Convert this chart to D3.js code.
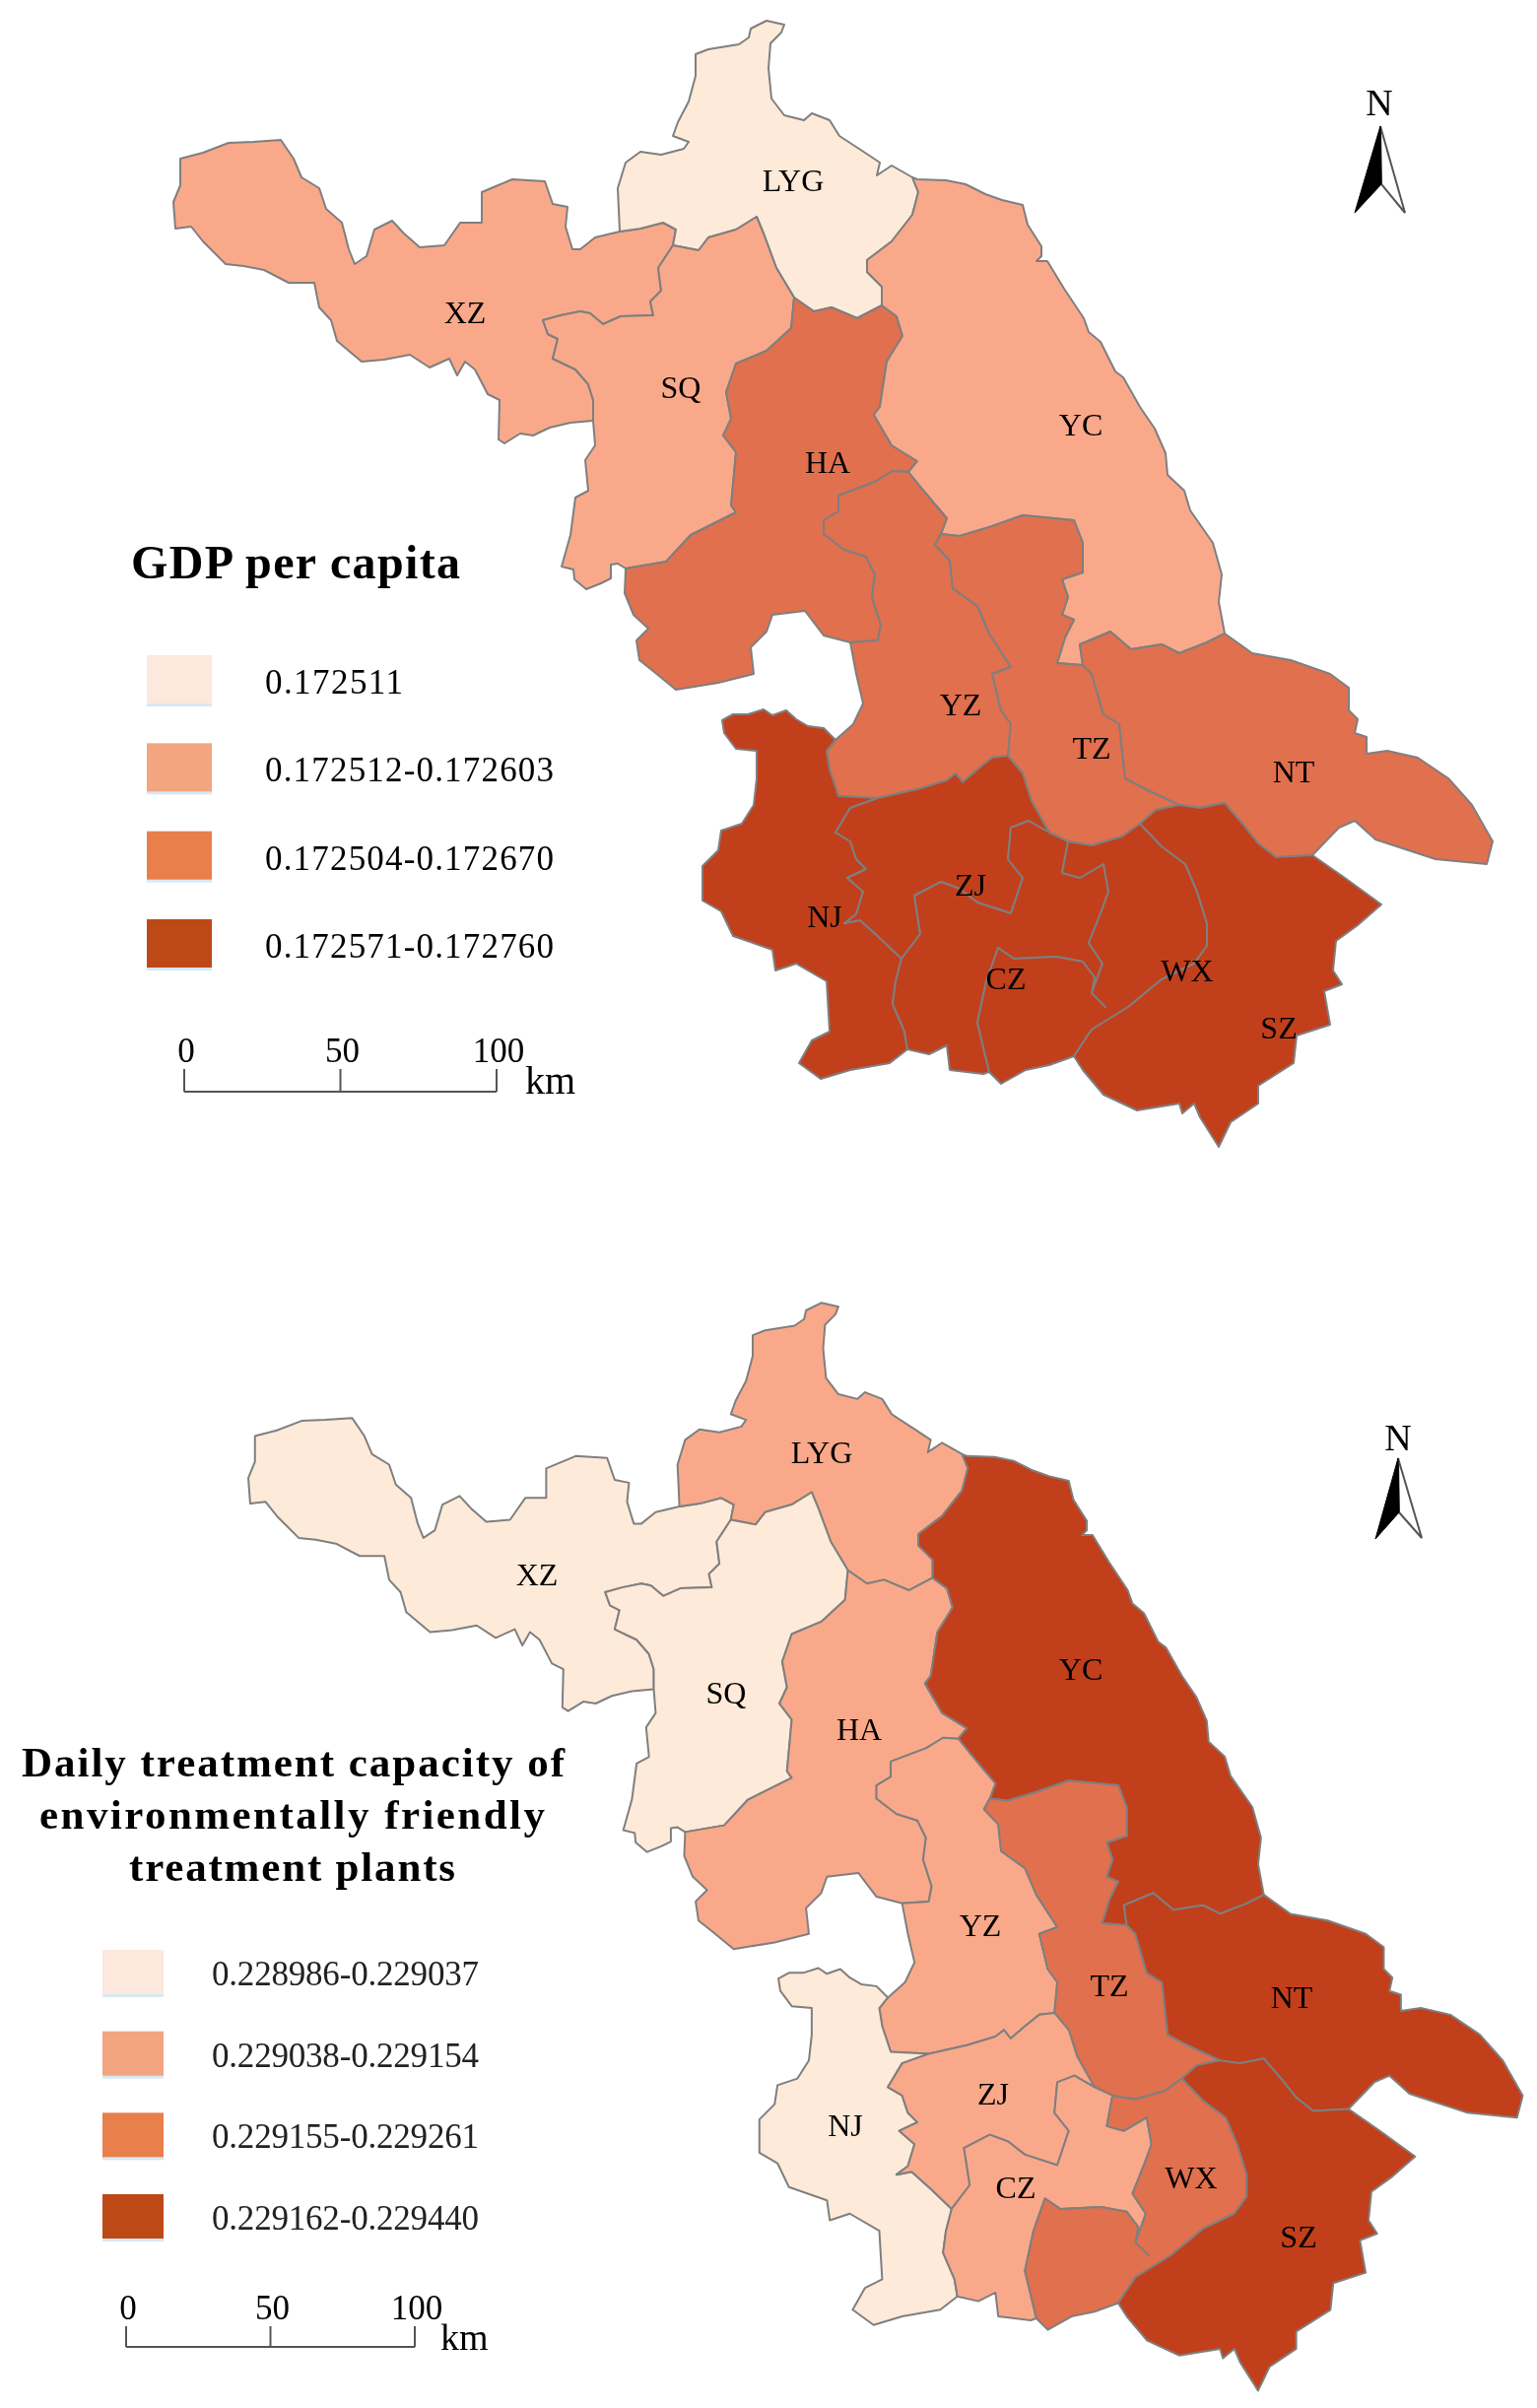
<!DOCTYPE html>
<html>
<head>
<meta charset="utf-8">
<script src="https://cdn.jsdelivr.net/npm/d3@7"></script>
<style>
  html, body { margin: 0; padding: 0; background: #fff; }
  svg { display: block; filter: blur(0.7px); }
  text { font-family: "Liberation Serif", serif; fill: #000; }
  .region { stroke: #7f7f7f; stroke-width: 2; stroke-linejoin: round; }
  .map-label { font-size: 32px; text-anchor: middle; }
  .title { font-size: 48px; font-weight: bold; }
  .legend-label { font-size: 35px; }
  .scale-label { font-size: 35px; }
  .scale-line { stroke: #555; stroke-width: 2; fill: none; }
</style>
</head>
<body>
<svg id="chart" width="1560" height="2444" viewBox="0 0 1560 2444"></svg>
<script>
// Shared borders of the 13 cities (map units = its pixels)
const arcs = {
  xzOut: [[602,427],[579,429],[558,434],[541,442],[528,440],[512,450],[506,446],[507,406],[495,400],[482,375],[472,367],[464,381],[456,364],[436,373],[416,360],[390,365],[367,367],[342,346],[336,325],[324,312],[319,287],[293,287],[268,274],[247,270],[229,268],[206,245],[194,230],[178,232],[176,205],[183,188],[183,161],[206,155],[232,145],[257,144],[285,142],[298,161],[306,180],[324,191],[331,212],[347,226],[354,253],[360,268],[372,260],[380,233],[398,224],[410,237],[426,251],[451,249],[467,226],[489,226],[489,195],[520,182],[553,184],[561,207],[576,210],[574,230],[581,253],[589,253],[604,241],[629,235]],
  lygXz: [[629,235],[650,232],[673,226],[686,233],[683,249]],
  xzSq: [[683,249],[668,272],[671,295],[660,306],[663,320],[630,321],[612,329],[599,318],[589,316],[569,320],[551,325],[556,339],[566,344],[561,364],[584,375],[597,390],[602,406],[602,427]],
  lygOut: [[629,235],[627,191],[635,165],[650,154],[671,157],[694,151],[699,144],[683,138],[688,124],[699,103],[706,77],[706,55],[719,50],[750,45],[760,38],[762,29],[778,21],[796,25],[793,33],[782,44],[780,69],[783,100],[796,117],[816,122],[824,115],[842,122],[852,138],[875,153],[893,165],[890,178],[905,168],[926,180]],
  lygYc: [[926,180],[932,195],[926,218],[905,245],[880,264],[880,276],[895,291],[895,310]],
  lygSq: [[683,249],[709,254],[719,241],[747,233],[768,220],[775,237],[788,272],[806,302]],
  lygHa: [[806,302],[826,316],[844,312],[870,323],[895,310]],
  sqHa: [[806,302],[803,333],[778,356],[747,369],[737,398],[742,425],[734,442],[747,459],[742,513],[747,520],[701,543],[676,570],[635,577]],
  sqOut: [[602,427],[604,452],[594,467],[597,498],[584,505],[579,543],[570,575],[582,578],[583,588],[595,598],[610,592],[620,587],[620,573],[627,572],[635,577]],
  haYc: [[895,310],[910,321],[916,341],[900,367],[893,413],[887,421],[905,452],[931,468],[922,479]],
  haYz: [[922,479],[906,478],[888,489],[851,503],[851,519],[836,528],[836,542],[857,558],[879,565],[888,583],[885,606],[894,634],[891,650],[863,652]],
  haOut: [[863,652],[836,645],[817,620],[784,624],[778,641],[762,657],[765,684],[729,693],[686,700],[664,682],[649,670],[646,650],[658,638],[643,624],[634,602],[635,577]],
  ycOut: [[926,180],[931,182],[960,183],[980,187],[1000,197],[1017,203],[1038,208],[1043,228],[1057,250],[1057,260],[1052,265],[1063,265],[1080,293],[1100,323],[1105,337],[1117,347],[1132,377],[1140,383],[1157,413],[1172,435],[1183,460],[1185,482],[1202,498],[1208,518],[1231,551],[1240,583],[1237,611],[1243,643]],
  ycYz: [[922,479],[934,494],[949,512],[961,526],[955,542]],
  ycTz: [[955,542],[974,544],[1004,535],[1038,523],[1090,528],[1099,551],[1099,581],[1078,588],[1084,606],[1078,624],[1090,629],[1081,647],[1073,673],[1099,675]],
  ycNt: [[1099,675],[1096,654],[1127,641],[1148,659],[1179,654],[1197,663],[1225,652],[1243,643]],
  yzTz: [[955,542],[949,553],[964,569],[967,597],[992,615],[1004,643],[1026,677],[1007,684],[1016,721],[1026,735],[1023,767]],
  yzZj: [[1023,767],[1007,769],[992,781],[977,794],[970,785],[961,792],[931,801],[891,810]],
  yzNj: [[891,810],[851,808],[842,781],[839,762],[848,751]],
  yzOut: [[863,652],[869,684],[876,714],[866,735],[848,751]],
  njOut: [[848,751],[836,739],[820,737],[808,730],[798,721],[784,726],[775,720],[759,725],[744,725],[733,731],[735,744],[747,760],[768,762],[768,790],[765,817],[753,836],[732,843],[729,863],[713,879],[713,914],[732,925],[744,950],[784,964],[787,985],[808,978],[839,996],[842,1047],[824,1056],[811,1079],[833,1095],[863,1086],[903,1079],[921,1065]],
  njZj: [[891,810],[863,820],[848,845],[863,854],[869,872],[879,882],[860,891],[876,905],[869,928],[857,937],[873,934],[894,953],[915,973]],
  njCz: [[915,973],[909,996],[906,1019],[918,1047],[921,1065]],
  zjCz: [[915,973],[934,948],[928,909],[955,895],[974,902],[992,916],[1026,927],[1038,891],[1023,872],[1026,840],[1044,833],[1065,845]],
  zjTz: [[1023,767],[1038,785],[1047,813],[1065,845]],
  tzCz: [[1065,845],[1084,854]],
  tzWx: [[1084,854],[1108,858],[1139,849],[1157,836]],
  tzSz: [[1157,836],[1173,822],[1197,817]],
  tzNt: [[1099,675],[1108,684],[1120,725],[1136,735],[1142,790],[1163,801],[1197,817]],
  ntOut: [[1243,643],[1271,663],[1310,670],[1350,684],[1369,698],[1369,721],[1378,730],[1375,744],[1387,748],[1387,765],[1408,762],[1439,769],[1470,790],[1494,817],[1515,854],[1509,877],[1457,872],[1396,852],[1375,833],[1359,840],[1332,868]],
  ntSz: [[1197,817],[1218,820],[1243,815],[1261,836],[1277,856],[1295,870],[1332,868]],
  szOut: [[1332,868],[1365,891],[1402,918],[1378,939],[1356,955],[1353,985],[1362,999],[1344,1006],[1350,1040],[1316,1051],[1313,1079],[1277,1102],[1277,1120],[1249,1139],[1237,1164],[1218,1134],[1212,1120],[1200,1130],[1197,1120],[1154,1127],[1120,1111],[1099,1086],[1090,1072]],
  wxSz: [[1157,836],[1179,859],[1203,877],[1215,905],[1225,937],[1225,960],[1212,978],[1179,994],[1145,1022],[1108,1045],[1090,1072]],
  czWx: [[1084,854],[1078,886],[1096,891],[1120,877],[1125,905],[1117,927],[1105,957],[1119,978],[1108,1008],[1122,1022],[1108,1008],[1111,992],[1099,976],[1072,971],[1029,973],[1013,962],[1001,996],[992,1038],[1004,1088]],
  czOut: [[921,1065],[943,1070],[961,1061],[964,1086],[998,1090],[1004,1088]],
  wxOut: [[1004,1088],[1016,1100],[1041,1086],[1065,1081],[1090,1072]]
};

// Rings as arc names, a leading "-" walks the arc backwards
const cityRings = {
  XZ: ['xzOut', 'lygXz', 'xzSq'],
  LYG: ['lygOut', 'lygYc', '-lygHa', '-lygSq', '-lygXz'],
  SQ: ['lygSq', 'sqHa', '-sqOut', '-xzSq'],
  HA: ['lygHa', 'haYc', 'haYz', 'haOut', '-sqHa'],
  YC: ['ycOut', '-ycNt', '-ycTz', '-ycYz', '-haYc', '-lygYc'],
  YZ: ['ycYz', 'yzTz', 'yzZj', 'yzNj', '-yzOut', '-haYz'],
  TZ: ['ycTz', 'tzNt', '-tzSz', '-tzWx', '-tzCz', '-zjTz', '-yzTz'],
  NT: ['ycNt', 'ntOut', '-ntSz', '-tzNt'],
  NJ: ['-yzNj', 'njZj', 'njCz', '-njOut'],
  ZJ: ['-yzZj', 'zjTz', '-zjCz', '-njZj'],
  CZ: ['zjCz', 'tzCz', 'czWx', '-czOut', '-njCz'],
  WX: ['tzWx', 'wxSz', '-wxOut', '-czWx'],
  SZ: ['tzSz', 'ntSz', 'szOut', '-wxSz']
};

const cities = ['XZ', 'LYG', 'SQ', 'HA', 'YC', 'YZ', 'TZ', 'NT', 'NJ', 'ZJ', 'CZ', 'WX', 'SZ'];
// class of each city (same order as cities), 0 = lightest
const gdpClass = [1, 0, 1, 2, 1, 2, 2, 2, 3, 3, 3, 3, 3];
const plantClass = [0, 1, 0, 1, 3, 1, 2, 3, 0, 1, 1, 2, 3];

const gdpLegend = ['0.172511', '0.172512-0.172603', '0.172504-0.172670', '0.172571-0.172760'];
const plantLegend = ['0.228986-0.229037', '0.229038-0.229154', '0.229155-0.229261', '0.229162-0.229440'];
const plantTitle = ['Daily treatment capacity of', 'environmentally friendly', 'treatment plants'];
const scaleTicks = [0, 50, 100];

const classColors = ['#feead8', '#f9a98a', '#e1704e', '#c23f1b'];
const swatchColors = ['#fde8dd', '#f2a57f', '#e97f4a', '#bd4a16'];

// Label anchors
const gdpLabelAt = { XZ: [472,317], LYG: [805,183], SQ: [691,393], HA: [840,469], YC: [1097,431], YZ: [975,715], TZ: [1108,759], NT: [1313,783], NJ: [837,930], ZJ: [985,898], CZ: [1021,993], WX: [1205,985], SZ: [1298,1043] };
const plantLabelAt = { XZ: [545,1598], LYG: [834,1474], SQ: [737,1718], HA: [872,1755], YC: [1097,1694], YZ: [995,1954], TZ: [1126,2015], NT: [1311,2027], NJ: [858,2157], ZJ: [1008,2125], CZ: [1031,2220], WX: [1209,2210], SZ: [1318,2270] };

// Build the geojson from the arcs
const ringCoords = (names) => {
  const ring = [];
  names.forEach(name => {
    const back = name[0] === '-';
    const pts = arcs[back ? name.slice(1) : name];
    ring.push(...(back ? pts.slice().reverse() : pts));
  });
  ring.push(ring[0]);
  return ring;
};
const features = cities.map(id => ({
  type: 'Feature',
  id,
  geometry: { type: 'Polygon', coordinates: [ringCoords(cityRings[id])] }
}));

const svg = d3.select('#chart');
const color = d3.scaleOrdinal().domain([0, 1, 2, 3]).range(classColors);
const swatch = d3.scaleOrdinal().domain([0, 1, 2, 3]).range(swatchColors);

const drawMap = (projection, classes, labelAt) => {
  const path = d3.geoPath(projection);
  const g = svg.append('g');
  g.selectAll('path')
    .data(features)
    .join('path')
      .attr('class', 'region')
      .attr('d', path)
      .attr('fill', (d, i) => color(classes[i]));
  g.selectAll('text')
    .data(cities)
    .join('text')
      .attr('class', 'map-label')
      .attr('x', d => labelAt[d][0])
      .attr('y', d => labelAt[d][1] + 11)
      .text(d => d);
};

const drawLegend = (labels, box) => {
  const g = svg.append('g');
  const rows = g.selectAll('g')
    .data(labels)
    .join('g');
  // soft blue edge under each swatch
  rows.append('rect')
    .attr('x', box.x)
    .attr('y', (d, i) => box.rowY(i) + 3)
    .attr('width', box.w)
    .attr('height', box.h)
    .attr('fill', '#d6e8f6');
  rows.append('rect')
    .attr('x', box.x)
    .attr('y', (d, i) => box.rowY(i))
    .attr('width', box.w)
    .attr('height', box.h)
    .attr('fill', (d, i) => swatch(i));
  rows.append('text')
    .attr('class', 'legend-label')
    .attr('x', box.textX)
    .attr('y', (d, i) => box.rowY(i) + box.baseline)
    .style('fill', box.ink)
    .attr('textLength', d => d.length > 10 ? box.textW : 140)
    .attr('lengthAdjust', 'spacing')
    .text(d => d);
};

const drawScaleBar = (x, y, tickTop, labelY, kmX, kmY, kmSize) => {
  const g = svg.append('g');
  g.append('line')
    .attr('class', 'scale-line')
    .attr('x1', x(0)).attr('x2', x(100))
    .attr('y1', y).attr('y2', y);
  g.selectAll('line.tick')
    .data(scaleTicks)
    .join('line')
      .attr('class', 'scale-line tick')
      .attr('x1', d => x(d)).attr('x2', d => x(d))
      .attr('y1', tickTop).attr('y2', y);
  g.selectAll('text.tick')
    .data(scaleTicks)
    .join('text')
      .attr('class', 'scale-label tick')
      .attr('text-anchor', 'middle')
      .attr('x', d => x(d) + 2)
      .attr('y', labelY)
      .text(d => d);
  g.append('text')
    .attr('class', 'scale-label')
    .style('font-size', kmSize + 'px')
    .attr('x', kmX)
    .attr('y', kmY)
    .text('km');
};

const drawNorth = (cx, baseY, tip, left, right, notch) => {
  const g = svg.append('g');
  g.append('text')
    .attr('text-anchor', 'middle')
    .attr('x', cx)
    .attr('y', baseY)
    .style('font-size', '38px')
    .text('N');
  g.append('path')
    .attr('d', d3.line()([tip, right, notch]) + 'Z')
    .attr('fill', '#fff')
    .attr('stroke', '#555')
    .attr('stroke-width', 2);
  g.append('path')
    .attr('d', d3.line()([tip, left, notch]) + 'Z')
    .attr('fill', '#000')
    .attr('stroke', '#000');
};

// Upper map
drawMap(d3.geoIdentity().scale(1).translate([0, 0]), gdpClass, gdpLabelAt);
svg.append('text')
  .attr('class', 'title')
  .attr('x', 133).attr('y', 587)
  .attr('textLength', 334)
  .attr('lengthAdjust', 'spacing')
  .text('GDP per capita');
const gdpRowY = d3.scaleLinear().domain([0, 3]).range([665, 933]);
drawLegend(gdpLegend, { x: 149, w: 66, h: 49, rowY: gdpRowY, baseline: 39, textX: 269, textW: 293, ink: '#000' });
drawScaleBar(d3.scaleLinear().domain([0, 100]).range([187, 504]), 1108, 1085, 1078, 533, 1110, 40);
drawNorth(1400, 117, [1401, 128], [1375, 216], [1426, 216], [1402, 187]);

// Lower map, same shapes a little smaller
drawMap(d3.geoIdentity().scale(0.966).translate([82, 1302]), plantClass, plantLabelAt);
const titleX = [22, 40, 131];
const titleW = [551, 513, 331];
const titleY = d3.scaleLinear().domain([0, 2]).range([1803, 1909]);
svg.selectAll('text.plant-title')
  .data(plantTitle)
  .join('text')
    .attr('class', 'title plant-title')
    .style('font-size', '43px')
    .attr('x', (d, i) => titleX[i])
    .attr('y', (d, i) => titleY(i))
    .attr('textLength', (d, i) => titleW[i])
    .attr('lengthAdjust', 'spacing')
    .text(d => d);
const plantRowY = d3.scaleLinear().domain([0, 3]).range([1979, 2227]);
drawLegend(plantLegend, { x: 104, w: 62, h: 45, rowY: plantRowY, baseline: 36, textX: 215, textW: 271, ink: '#222' });
drawScaleBar(d3.scaleLinear().domain([0, 100]).range([128, 421]), 2382, 2361, 2354, 447, 2385, 38);
drawNorth(1419, 1472, [1419, 1480], [1396, 1562], [1443, 1561], [1420, 1535]);
</script>
</body>
</html>
